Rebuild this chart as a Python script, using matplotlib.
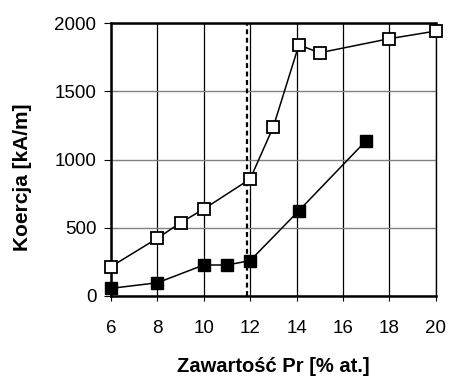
import matplotlib.pyplot as plt

plt.rcParams['font.family'] = ['Liberation Sans', 'DejaVu Sans']

# open squares
open_x = [6, 8, 9, 10, 12, 13, 14.1, 15, 18, 20]
open_y = [215, 423, 537, 637, 857, 1240, 1839, 1782, 1885, 1941]

# filled squares
fill_x = [6, 8, 10, 11, 12, 14.1, 17]
fill_y = [56, 97, 227, 227, 259, 625, 1138]

limit_x = 11.85
x_ticks = [6, 8, 10, 12, 14, 16, 18, 20]
y_ticks = [0, 500, 1000, 1500, 2000]

fig = plt.figure(figsize=(4.49, 3.79), dpi=100)
ax = fig.add_axes([0.2472, 0.219, 0.9704 - 0.2472, 0.9393 - 0.219])

ax.plot(open_x, open_y, color='black', lw=1.1, marker='s', ms=9,
        mfc='white', mec='black', mew=1.3, zorder=3, clip_on=False)
ax.plot(fill_x, fill_y, color='black', lw=1.1, marker='s', ms=9,
        mfc='black', mec='black', zorder=3, clip_on=False)
ax.axvline(limit_x, color='black', lw=1.6, linestyle=(0, (2.2, 1.6)), zorder=2)

ax.set_xlim(6, 20)
ax.set_ylim(0, 2000)
ax.set_xticks(x_ticks)
ax.set_yticks(y_ticks)

ax.xaxis.grid(True, color='black', lw=0.9)
ax.yaxis.grid(True, color='#808080', lw=1.0)
ax.set_axisbelow(True)

for side in ['left', 'bottom', 'top']:
    ax.spines[side].set_linewidth(1.8)
ax.spines['right'].set_linewidth(1.0)

ax.tick_params(axis='both', direction='out', width=0.8, labelsize=13.5)
ax.tick_params(axis='x', length=3.5, pad=14)
ax.tick_params(axis='y', length=5, pad=5.5)

ax.set_xlabel('Zawartość Pr [% at.]', fontsize=14.5, fontweight='bold')
ax.set_ylabel('Koercja [kA/m]', fontsize=15, fontweight='bold')
ax.xaxis.set_label_coords(0.5, -0.225)
ax.yaxis.set_label_coords(-0.243, 0.434)

fig.savefig('out.png', dpi=100)
